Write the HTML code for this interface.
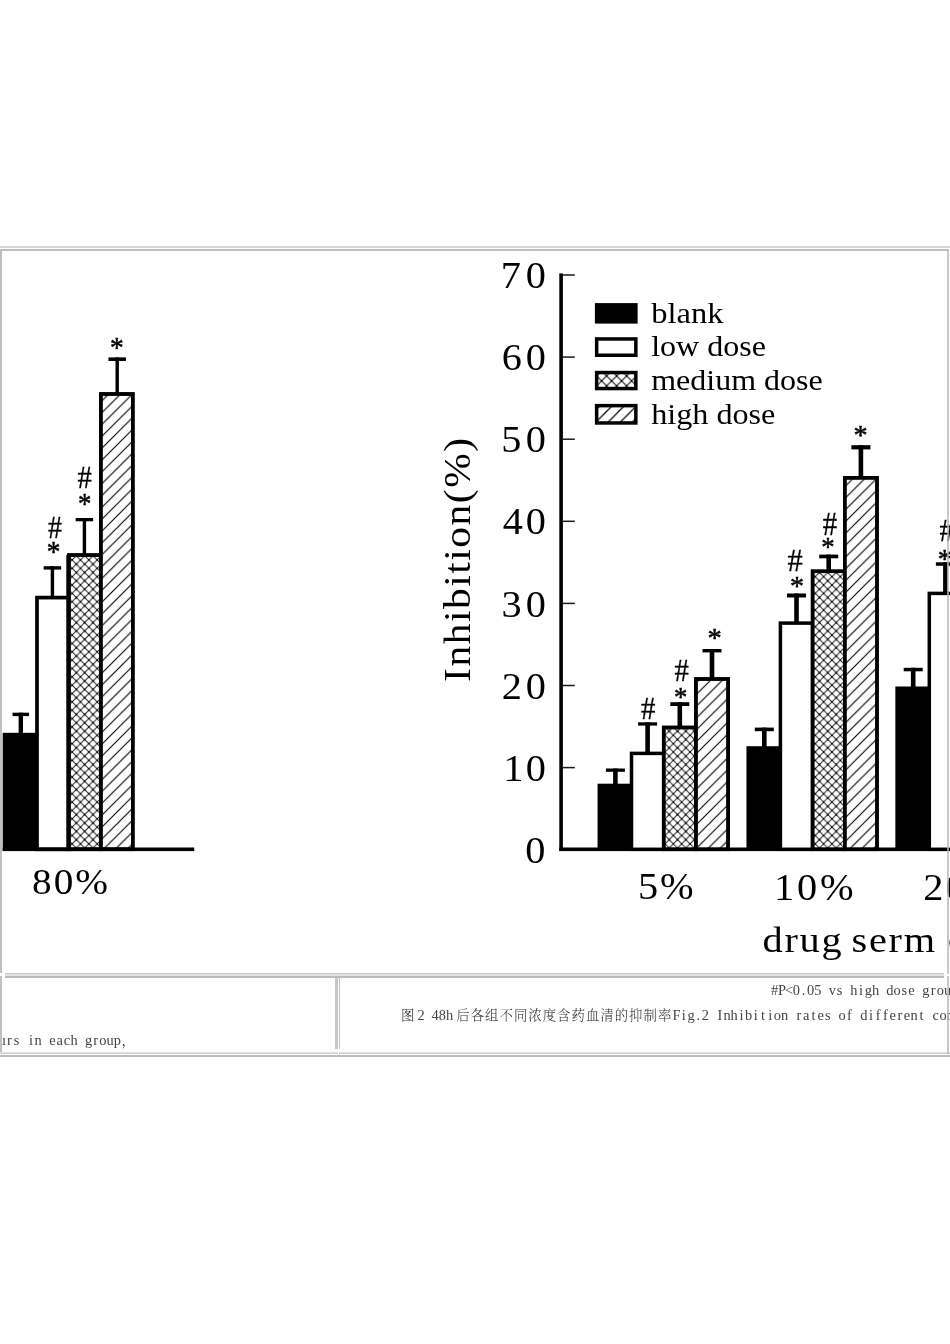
<!DOCTYPE html>
<html lang="zh"><head><meta charset="utf-8"><title>Fig.2 Inhibition rates</title>
<style>
html,body{margin:0;padding:0;background:#fff}
body{width:950px;height:1344px;position:relative;overflow:hidden}
.ln{position:absolute;display:block}
svg{position:absolute;left:0;top:0}
svg text{font-family:"Liberation Serif",serif;fill:#000}
svg text.cap{font-family:"Liberation Serif","Noto Serif CJK SC",serif;fill:#444}
svg text.cap .cj{font-family:"Noto Serif CJK SC","Liberation Serif",serif;font-weight:300;fill:#333}
</style></head><body>
<div class="ln" style="left:0px;top:246px;width:950px;height:2px;background:#d6d6d6"></div>
<div class="ln" style="left:0px;top:249px;width:949px;height:2px;background:#bdbdbd"></div>
<div class="ln" style="left:0px;top:249px;width:2px;height:724px;background:#c0c0c0"></div>
<div class="ln" style="left:5px;top:973px;width:939px;height:1px;background:#c6c6c6"></div>
<div class="ln" style="left:5px;top:974px;width:939px;height:2px;background:#e2e2e2"></div>
<div class="ln" style="left:5px;top:976px;width:939px;height:2px;background:#bbbbbb"></div>
<div class="ln" style="left:0px;top:976px;width:2px;height:78px;background:#c0c0c0"></div>
<div class="ln" style="left:335px;top:978px;width:3px;height:71px;background:#c6c6c6"></div>
<div class="ln" style="left:339px;top:978px;width:1px;height:71px;background:#c0c0c0"></div>
<div class="ln" style="left:0px;top:1052px;width:338px;height:1px;background:#e4e4e4"></div>
<div class="ln" style="left:339px;top:1052px;width:611px;height:1px;background:#e4e4e4"></div>
<div class="ln" style="left:0px;top:1053px;width:338px;height:1px;background:#cdcdcd"></div>
<div class="ln" style="left:339px;top:1053px;width:611px;height:1px;background:#cdcdcd"></div>
<div class="ln" style="left:0px;top:1055px;width:950px;height:2px;background:#bdbdbd"></div>
<svg width="950" height="1344" viewBox="0 0 950 1344">
<defs>
<pattern id="hat" width="11.84" height="11.84" patternUnits="userSpaceOnUse" patternTransform="translate(5.48 0)">
<path d="M-1,1 L1,-1 M-1,12.84 L12.84,-1 M10.84,12.84 L12.84,10.84" stroke="#000" stroke-width="1.1" fill="none"/></pattern>
<pattern id="crs" width="8.35" height="8.35" patternUnits="userSpaceOnUse" patternTransform="translate(5.32 0.5)">
<path d="M-1,9.35 L9.35,-1 M-1,-1 L9.35,9.35" stroke="#222" stroke-width="1" fill="none"/>
<circle cx="4.175" cy="4.175" r="0.9" fill="#000"/><circle cx="0" cy="0" r="0.9"/><circle cx="8.35" cy="0" r="0.9"/><circle cx="0" cy="8.35" r="0.9"/><circle cx="8.35" cy="8.35" r="0.9"/></pattern>
<pattern id="crs2" width="10" height="10" patternUnits="userSpaceOnUse" patternTransform="translate(1.6 0.9)">
<path d="M-1,11 L11,-1 M-1,-1 L11,11" stroke="#111" stroke-width="1.1" fill="none"/>
<circle cx="5" cy="5" r="1" fill="#000"/><circle cx="0" cy="0" r="1"/><circle cx="10" cy="0" r="1"/><circle cx="0" cy="10" r="1"/><circle cx="10" cy="10" r="1"/></pattern>
<pattern id="hat2" width="12.2" height="12.2" patternUnits="userSpaceOnUse" patternTransform="translate(5.4 0)">
<path d="M-1,1 L1,-1 M-1,13.2 L13.2,-1 M11.2,13.2 L13.2,11.2" stroke="#000" stroke-width="1.2" fill="none"/></pattern>
<clipPath id="cl"><rect x="2.7" y="251" width="400" height="722"/></clipPath>
<clipPath id="cr"><rect x="420" y="251" width="530" height="722"/></clipPath>
<clipPath id="ct1"><rect x="2" y="978" width="333" height="74"/></clipPath>
<clipPath id="ct2"><rect x="340" y="978" width="610" height="74"/></clipPath>
</defs>
<g clip-path="url(#cl)">
<rect x="-10" y="732.8" width="48" height="118" fill="#000"/>
<rect x="37.00" y="597.60" width="31.93" height="251.70" fill="#fff" stroke="#000" stroke-width="3.7"/>
<rect x="68.93" y="555.10" width="31.93" height="294.20" fill="#fff" stroke="#000" stroke-width="3.5"/>
<rect x="68.93" y="555.10" width="31.93" height="294.20" fill="url(#crs)" stroke="#000" stroke-width="3.5"/>
<rect x="100.86" y="394.00" width="31.93" height="455.30" fill="#fff" stroke="#000" stroke-width="3.5"/>
<rect x="100.86" y="394.00" width="31.93" height="455.30" fill="url(#hat)" stroke="#000" stroke-width="3.5"/>
<rect x="66.3" y="555" width="3" height="294" fill="#000"/>
<rect x="0" y="847.5" width="194.2" height="3.6" fill="#000"/>
<rect x="12.55" y="712.70" width="16.50" height="3.40" fill="#000"/>
<rect x="18.60" y="712.70" width="4.40" height="21.30" fill="#000"/>
<rect x="43.65" y="566.20" width="17.50" height="3.40" fill="#000"/>
<rect x="50.70" y="566.20" width="3.40" height="30.80" fill="#000"/>
<rect x="75.65" y="518.00" width="17.50" height="3.30" fill="#000"/>
<rect x="82.70" y="518.00" width="3.40" height="37.00" fill="#000"/>
<rect x="108.45" y="357.40" width="17.50" height="3.60" fill="#000"/>
<rect x="115.50" y="357.40" width="3.40" height="36.60" fill="#000"/>
<text transform="translate(48.00 538.00) scale(0.993 1.135)" font-size="28" stroke="#000" stroke-width="0.25">#</text>
<text transform="translate(46.87 560.93) scale(0.974 1.032)" font-size="28" stroke="#000" stroke-width="0.5">*</text>
<text transform="translate(77.48 488.40) scale(1.024 1.140)" font-size="28" stroke="#000" stroke-width="0.25">#</text>
<text transform="translate(78.09 513.41) scale(0.956 1.042)" font-size="28" stroke="#000" stroke-width="0.5">*</text>
<text transform="translate(109.97 357.33) scale(0.974 1.032)" font-size="28" stroke="#000" stroke-width="0.5">*</text>
<text transform="translate(32.01 894.20) scale(1.09 1)" font-size="36" letter-spacing="1.88" word-spacing="0.0" >80%</text>
</g>
<g clip-path="url(#cr)">
<rect x="559.3" y="273.4" width="3.6" height="577.6" fill="#000"/>
<rect x="559.3" y="847.5" width="400" height="3.6" fill="#000"/>
<rect x="563" y="766.85" width="11.8" height="1.5" fill="#1a1a1a"/>
<rect x="563" y="684.75" width="11.8" height="1.5" fill="#1a1a1a"/>
<rect x="563" y="602.65" width="11.8" height="1.5" fill="#1a1a1a"/>
<rect x="563" y="520.55" width="11.8" height="1.5" fill="#1a1a1a"/>
<rect x="563" y="438.45" width="11.8" height="1.5" fill="#1a1a1a"/>
<rect x="563" y="356.35" width="11.8" height="1.5" fill="#1a1a1a"/>
<rect x="563" y="274.25" width="11.8" height="1.5" fill="#1a1a1a"/>
<text transform="translate(525.36 863.20) scale(1.09 1)" font-size="37" letter-spacing="0.00" word-spacing="0.0" >0</text>
<text transform="translate(503.16 781.00) scale(1.09 1)" font-size="37" letter-spacing="2.16" word-spacing="0.0" >10</text>
<text transform="translate(501.73 698.80) scale(1.09 1)" font-size="37" letter-spacing="3.47" word-spacing="0.0" >20</text>
<text transform="translate(501.57 616.60) scale(1.09 1)" font-size="37" letter-spacing="3.61" word-spacing="0.0" >30</text>
<text transform="translate(502.71 534.40) scale(1.09 1)" font-size="37" letter-spacing="2.56" word-spacing="0.0" >40</text>
<text transform="translate(501.16 452.20) scale(1.09 1)" font-size="37" letter-spacing="3.99" word-spacing="0.0" >50</text>
<text transform="translate(501.77 370.00) scale(1.09 1)" font-size="37" letter-spacing="3.43" word-spacing="0.0" >60</text>
<text transform="translate(500.84 287.80) scale(1.09 1)" font-size="37" letter-spacing="4.28" word-spacing="0.0" >70</text>
<text transform="translate(469.8 681.90) rotate(-90) scale(1.12 1)" font-size="37" letter-spacing="1.37">Inhibition(%)</text>
<rect x="594.9" y="303.1" width="42.7" height="20.5" fill="#000"/>
<rect x="596.65" y="338.95" width="39.2" height="16.3" fill="#fff" stroke="#000" stroke-width="3.5"/>
<rect x="596.65" y="372.55" width="39.2" height="16" fill="url(#crs2)" stroke="#000" stroke-width="3.5"/>
<rect x="596.65" y="405.65" width="39.2" height="17.3" fill="url(#hat2)" stroke="#000" stroke-width="3.5"/>
<text x="651.20" y="323.20" font-size="30" text-anchor="start" textLength="72.2" lengthAdjust="spacingAndGlyphs" >blank</text>
<text x="651.20" y="356.00" font-size="30" text-anchor="start" textLength="114.8" lengthAdjust="spacingAndGlyphs" >low dose</text>
<text x="651.20" y="390.30" font-size="30" text-anchor="start" textLength="171.5" lengthAdjust="spacingAndGlyphs" >medium dose</text>
<text x="651.20" y="423.70" font-size="30" text-anchor="start" textLength="124.2" lengthAdjust="spacingAndGlyphs" >high dose</text>
<rect x="597.55" y="783.70" width="35.70" height="67.30" fill="#000"/>
<rect x="631.50" y="753.40" width="32.20" height="95.90" fill="#fff" stroke="#000" stroke-width="3.5"/>
<rect x="663.70" y="727.50" width="32.20" height="121.80" fill="#fff" stroke="#000" stroke-width="3.5"/>
<rect x="663.70" y="727.50" width="32.20" height="121.80" fill="url(#crs)" stroke="#000" stroke-width="3.5"/>
<rect x="695.90" y="679.00" width="32.20" height="170.30" fill="#fff" stroke="#000" stroke-width="3.5"/>
<rect x="695.90" y="679.00" width="32.20" height="170.30" fill="url(#hat)" stroke="#000" stroke-width="3.5"/>
<rect x="605.90" y="768.50" width="19.00" height="3.30" fill="#000"/>
<rect x="613.10" y="768.50" width="4.60" height="16.20" fill="#000"/>
<rect x="638.10" y="722.30" width="19.00" height="3.30" fill="#000"/>
<rect x="645.30" y="722.30" width="4.60" height="32.10" fill="#000"/>
<rect x="670.30" y="702.20" width="19.00" height="3.80" fill="#000"/>
<rect x="677.50" y="702.20" width="4.60" height="26.30" fill="#000"/>
<rect x="702.50" y="649.00" width="19.00" height="3.40" fill="#000"/>
<rect x="709.70" y="649.00" width="4.60" height="31.00" fill="#000"/>
<rect x="746.45" y="746.20" width="35.70" height="104.80" fill="#000"/>
<rect x="780.40" y="623.10" width="32.20" height="226.20" fill="#fff" stroke="#000" stroke-width="3.5"/>
<rect x="812.60" y="571.30" width="32.20" height="278.00" fill="#fff" stroke="#000" stroke-width="3.5"/>
<rect x="812.60" y="571.30" width="32.20" height="278.00" fill="url(#crs)" stroke="#000" stroke-width="3.5"/>
<rect x="844.80" y="477.80" width="32.20" height="371.50" fill="#fff" stroke="#000" stroke-width="3.5"/>
<rect x="844.80" y="477.80" width="32.20" height="371.50" fill="url(#hat)" stroke="#000" stroke-width="3.5"/>
<rect x="754.80" y="727.60" width="19.00" height="3.60" fill="#000"/>
<rect x="762.00" y="727.60" width="4.60" height="19.60" fill="#000"/>
<rect x="787.00" y="593.50" width="19.00" height="4.00" fill="#000"/>
<rect x="794.20" y="593.50" width="4.60" height="30.60" fill="#000"/>
<rect x="819.20" y="554.60" width="19.00" height="3.70" fill="#000"/>
<rect x="826.40" y="554.60" width="4.60" height="17.70" fill="#000"/>
<rect x="851.40" y="445.20" width="19.00" height="4.20" fill="#000"/>
<rect x="858.60" y="445.20" width="4.60" height="33.60" fill="#000"/>
<rect x="895.35" y="686.50" width="35.70" height="164.50" fill="#000"/>
<rect x="929.30" y="593.40" width="32.20" height="255.90" fill="#fff" stroke="#000" stroke-width="3.5"/>
<rect x="903.70" y="667.80" width="19.00" height="3.50" fill="#000"/>
<rect x="910.90" y="667.80" width="4.60" height="19.70" fill="#000"/>
<rect x="935.90" y="562.30" width="19.00" height="3.50" fill="#000"/>
<rect x="943.10" y="562.30" width="4.60" height="32.10" fill="#000"/>
<text transform="translate(640.88 719.40) scale(1.032 1.124)" font-size="28" stroke="#000" stroke-width="0.25">#</text>
<text transform="translate(674.09 706.10) scale(0.956 0.954)" font-size="28" stroke="#000" stroke-width="0.5">*</text>
<text transform="translate(674.48 681.00) scale(1.024 1.135)" font-size="28" stroke="#000" stroke-width="0.25">#</text>
<text transform="translate(707.61 647.21) scale(1.018 0.993)" font-size="28" stroke="#000" stroke-width="0.5">*</text>
<text transform="translate(789.93 594.93) scale(1.001 0.984)" font-size="28" stroke="#000" stroke-width="0.5">*</text>
<text transform="translate(787.45 570.50) scale(1.086 1.151)" font-size="28" stroke="#000" stroke-width="0.25">#</text>
<text transform="translate(821.19 556.43) scale(0.956 0.984)" font-size="28" stroke="#000" stroke-width="0.5">*</text>
<text transform="translate(822.68 534.90) scale(1.032 1.189)" font-size="28" stroke="#000" stroke-width="0.25">#</text>
<text transform="translate(853.62 443.59) scale(1.009 1.003)" font-size="28" stroke="#000" stroke-width="0.5">*</text>
<text transform="translate(937.84 567.61) scale(0.992 0.993)" font-size="28" stroke="#000" stroke-width="0.5">*</text>
<text transform="translate(939.47 541.20) scale(1.039 1.151)" font-size="28" stroke="#000" stroke-width="0.25">#</text>
<text transform="translate(637.96 899.00) scale(1.09 1)" font-size="37" letter-spacing="1.80" word-spacing="0.0" >5%</text>
<text transform="translate(774.06 899.60) scale(1.09 1)" font-size="37" letter-spacing="2.61" word-spacing="0.0" >10%</text>
<text transform="translate(923.23 899.60) scale(1.09 1)" font-size="37" letter-spacing="1.94" word-spacing="0.0" >20%</text>
<text transform="translate(762.44 951.60) scale(1.12 1)" font-size="36" letter-spacing="1.59" word-spacing="-3.5" >drug serm</text>
<text x="948.00" y="951.60" font-size="37" text-anchor="start" letter-spacing="3">concentration</text>
</g>
<g clip-path="url(#ct2)">
<text class="cap" y="994.8" font-size="14.4" text-anchor="middle"><tspan x="774.7 781.9 789.1 796.3 803.5 810.7 817.9 825.1 832.3 839.5 846.7 853.9 861.1 868.3 875.5 882.7 889.9 897.1 904.3 911.5 918.7 925.9 933.1 940.3 947.5 954.7">#P&lt;0.05 vs high dose group</tspan></text>
<text class="cap" y="1020.4" font-size="14.4" text-anchor="middle"><tspan class="cj" font-size="13.4" x="407.8">图</tspan></text>
<text class="cap" y="1020.4" font-size="14.4" text-anchor="middle"><tspan x="421.0 428.2">2 </tspan></text>
<text class="cap" y="1020.4" font-size="14.4" text-anchor="middle"><tspan x="435.1 442.3 449.5">48h</tspan></text>
<text class="cap" y="1020.4" font-size="14.4" text-anchor="middle"><tspan class="cj" font-size="13.4" x="463.0 477.4 491.8 506.2 520.6 535.0 549.4 563.8 578.2 592.6 607.0 621.4 635.8 650.2 664.6">后各组不同浓度含药血清的抑制率</tspan></text>
<text class="cap" y="1020.4" font-size="14.4" text-anchor="middle"><tspan x="676.6 683.8 691.0 698.2 705.4 712.6 719.8 727.0 734.2 741.4 748.6 755.8 763.0 770.2 777.4 784.6 791.8 799.0 806.2 813.4 820.6 827.8 835.0 842.2 849.4 856.6 863.8 871.0 878.2 885.4 892.6 899.8 907.0 914.2 921.4 928.6 935.8 943.0 950.2 957.4 964.6 971.8 979.0 986.2 993.4 1000.6 1007.8 1015.0 1022.2 1029.4">Fig.2 Inhibition rates of different concentrations</tspan></text>
</g>
<g clip-path="url(#ct1)">
<text class="cap" y="1044.8" font-size="14.4" text-anchor="middle"><tspan x="2.1 9.3 16.5 23.7 30.9 38.1 45.3 52.5 59.7 66.9 74.1 81.3 88.5 95.7 102.9 110.1 117.3">urs in each group</tspan><tspan class="cj" font-size="13.4" x="128.1">，</tspan></text>
</g>
</svg>
<div class="ln" style="left:947px;top:251px;width:2px;height:723px;background:rgba(183,183,183,0.77)"></div>
<div class="ln" style="left:947px;top:976px;width:2px;height:78px;background:rgba(183,183,183,0.77)"></div>
</body></html>
